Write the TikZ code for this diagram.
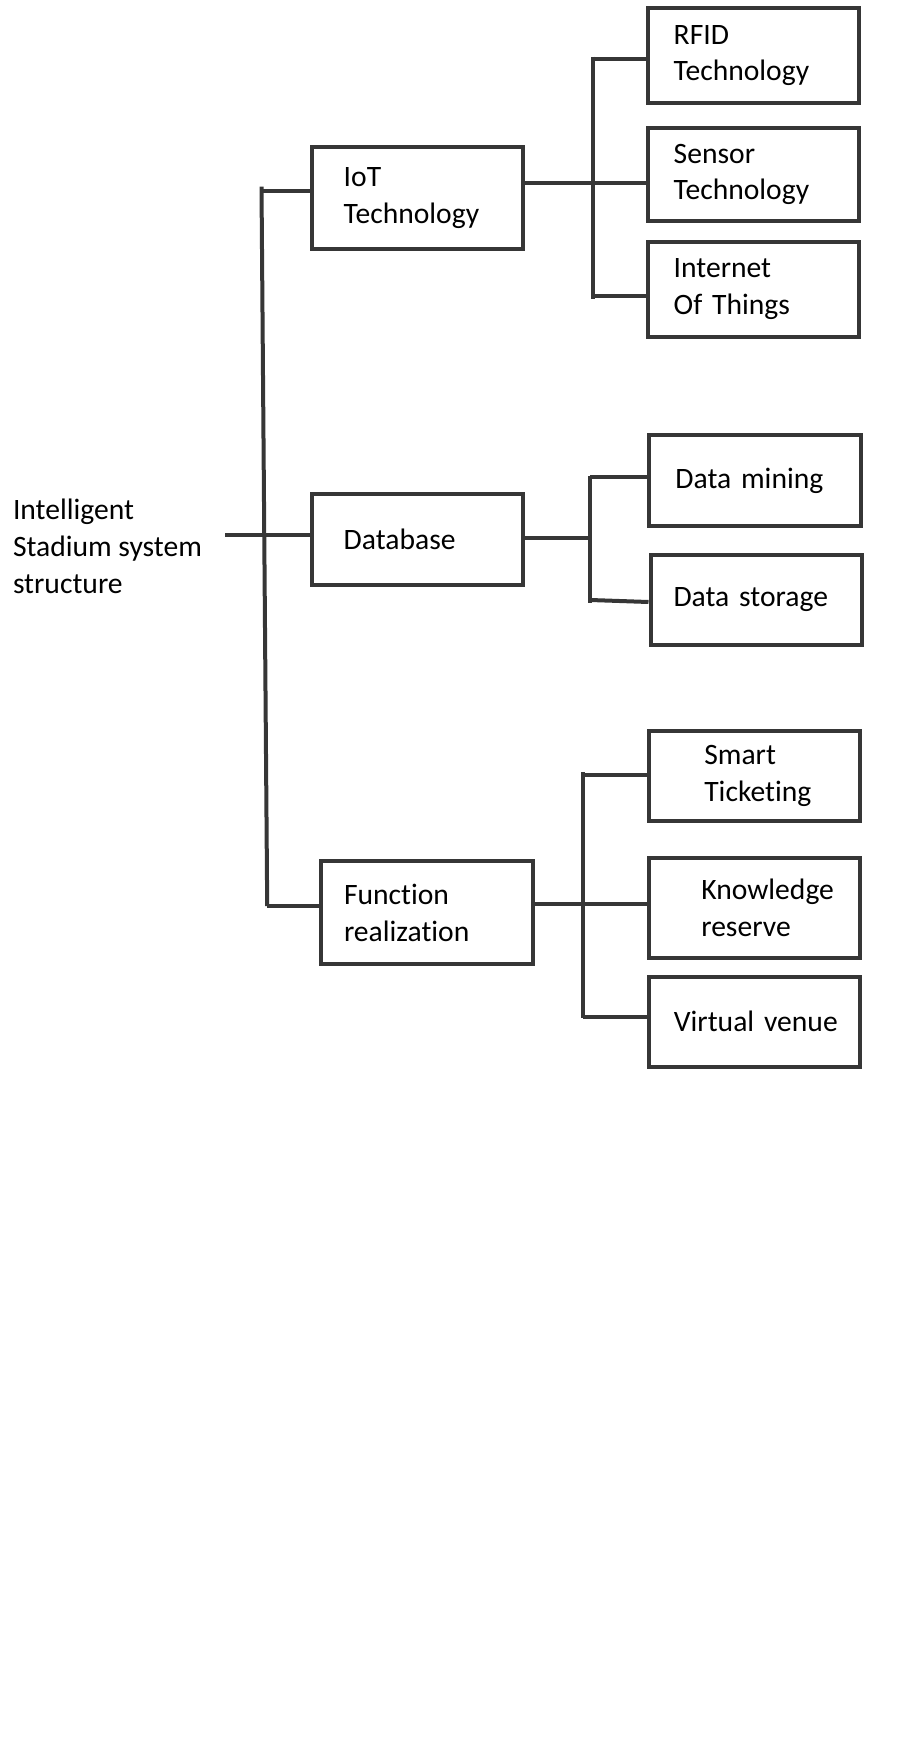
\documentclass[tikz,border=0pt]{standalone}
\usepackage{fontspec}
\setmainfont{Carlito}[Ligatures=NoCommon]
\usepackage{tikz}

\definecolor{linegray}{RGB}{54,54,54}
\tikzset{
  box/.style={draw=linegray, line width=2pt, rectangle, inner xsep=#1,
    text width=105.8pt-2*#1, align=left}
}

\begin{document}
\begin{tikzpicture}[x=0.5pt,y=-0.5pt,font=\fontsize{14.8}{18.4}\selectfont]
\useasboundingbox (0,0) rectangle (901,1764);

\node[anchor=west,align=left,inner sep=0pt] (root) at (12.6,546.5) {Intelligent\\Stadium system\\structure};

\begin{scope}
	\node[box=16.1pt,minimum height=50.7pt] (iot) at (417.3,197.9) {IoT\\Technology};
	\node[box=16.1pt,minimum height=45.3pt] (database) at (417.3,539.8) {Database};
	\node[box=11.5pt,minimum height=51.6pt] (function) at (426.8,912.8) {Function\\realization};
	
	\node[box=13pt,minimum height=47.85pt] (rfid) at (753.5,55.5) {RFID\\Technology};
	\node[box=13pt,minimum height=46.5pt] (sensor) at (753.5,174.5) {Sensor\\Technology};
	\node[box=13pt,minimum height=47.25pt] (internet) at (753.5,289.3) {Internet\\Of Things};
	
	\node[box=13pt,minimum height=45.3pt] (mining) at (755.2,480.5) {Data~mining};
	\node[box=11.5pt,minimum height=45.1pt] (storage) at (756.3,599.6) {Data~storage};
	
	\node[box=27.9pt,minimum height=44.9pt] (smart) at (754.3,775.7) {Smart\\Ticketing};
	\node[box=26.4pt,minimum height=50.1pt] (knowledge) at (754.3,908.2) {Knowledge\\reserve};
	\node[box=12.7pt,minimum height=44.9pt] (virtual) at (754.3,1021.6) {Virtual~venue};
\end{scope}

% spine
\coordinate (s1) at (261.5,186.6);
\coordinate (s2) at (267.2,906);
\coordinate (s1a) at (261.5,191.2);
\coordinate (r) at (225.3,534.6);
% brackets
\coordinate (a1) at (593,56.6);
\coordinate (a2) at (593,183.3);
\coordinate (a3) at (593,299.4);
\coordinate (b1) at (590.2,476.1);
\coordinate (b2) at (590.2,538.4);
\coordinate (b3) at (590.2,603);
\coordinate (c1) at (583.3,772);
\coordinate (c2) at (583.3,904);
\coordinate (c3) at (583.3,1018);

\begin{scope}[every edge/.style={draw=linegray,line width=2pt}]
	\path (s1) edge (s2);
	\path (s1a) edge (s1a -| iot.west);
	\path (r) edge (r -| database.west);
	\path (s2) edge (s2 -| function.west);
	
	\path (a1) edge (a3);
	\path (a1 |- 0,59.3) edge (rfid.west |- 0,59.3);
	\path (iot.east |- a2) edge (a2 -| sensor.west);
	\path (a3 |- 0,295.6) edge (internet.west |- 0,295.6);
	
	\path (b1) edge (b3);
	\path (b1 |- 0,476.9) edge (mining.west |- 0,476.9);
	\path (database.east |- b2) edge (b2);
	\path (b3 |- 0,600) edge (storage.west |- 0,602);
	
	\path (c1) edge (c3);
	\path (c1 |- 0,774.8) edge (smart.west |- 0,774.8);
	\path (function.east |- c2) edge (c2 -| knowledge.west);
	\path (c3 |- 0,1016.8) edge (virtual.west |- 0,1016.8);
\end{scope}
\end{tikzpicture}
\end{document}
